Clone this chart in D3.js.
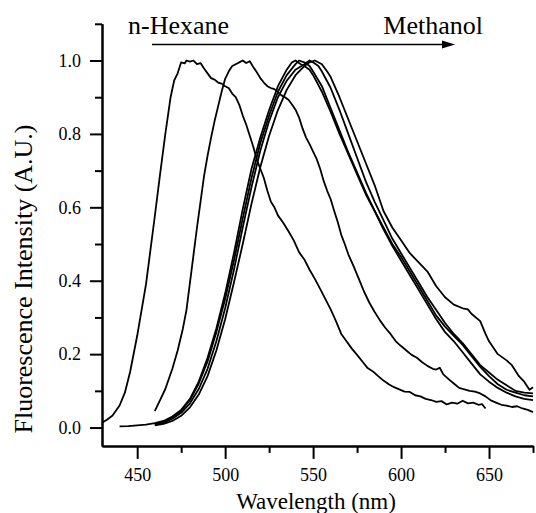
<!DOCTYPE html>
<html>
<head>
<meta charset="utf-8">
<script src="https://cdn.jsdelivr.net/npm/d3@7"></script>
<style>
body { margin: 0; background: #fff; }
svg text { font-family: "Liberation Serif", Tinos, "Times New Roman", "DejaVu Serif", serif; fill: #000; }
</style>
</head>
<body>
<div id="chart"></div>
<script>
// spectra: [wavelength nm, normalised intensity]
const hexane = [[430,0.013],[433,0.022],[436,0.033],[440,0.06],[443,0.095],[446,0.152],[450,0.25],[455,0.39],[460,0.575],[463,0.69],[466,0.8],[469,0.9],[471,0.945],[473,0.965],[475,0.995],[477,0.992],[478,1.0],[480,0.997],[482,1.0],[484,0.99],[486,0.993],[488,0.978],[490,0.965],[492,0.952],[494,0.948],[496,0.94],[498,0.937],[500,0.93],[502,0.925],[504,0.91],[506,0.9],[508,0.88],[510,0.85],[512,0.825],[514,0.795],[516,0.765],[518,0.73],[520,0.705],[522,0.68],[524,0.645],[526,0.615],[528,0.6],[530,0.578],[533,0.558],[536,0.535],[539,0.51],[542,0.478],[545,0.458],[548,0.43],[551,0.405],[554,0.378],[557,0.35],[560,0.322],[563,0.29],[566,0.255],[569,0.235],[572,0.215],[575,0.198],[578,0.18],[581,0.162],[584,0.153],[587,0.14],[590,0.128],[593,0.118],[596,0.11],[599,0.104],[602,0.098],[605,0.097],[608,0.088],[611,0.085],[614,0.078],[617,0.075],[620,0.07],[623,0.072],[626,0.063],[629,0.068],[632,0.065],[635,0.073],[638,0.066],[641,0.068],[644,0.062],[646,0.064],[648,0.052]];

const solvent2 = [[460,0.045],[463,0.075],[466,0.105],[470,0.16],[473,0.21],[476,0.27],[478,0.32],[480,0.395],[482,0.47],[484,0.545],[486,0.615],[488,0.685],[490,0.74],[492,0.79],[494,0.835],[496,0.875],[498,0.915],[500,0.95],[502,0.97],[504,0.985],[506,0.99],[508,0.995],[510,1.0],[512,0.993],[514,0.998],[516,0.982],[518,0.968],[520,0.952],[522,0.94],[524,0.93],[526,0.925],[528,0.922],[530,0.914],[532,0.905],[534,0.9],[536,0.893],[538,0.88],[540,0.866],[542,0.845],[544,0.815],[546,0.79],[548,0.772],[550,0.752],[552,0.732],[554,0.705],[556,0.672],[558,0.645],[560,0.622],[562,0.59],[564,0.56],[566,0.525],[568,0.5],[570,0.472],[573,0.44],[576,0.405],[579,0.37],[582,0.34],[585,0.315],[588,0.292],[591,0.272],[594,0.255],[597,0.235],[600,0.222],[603,0.21],[606,0.198],[609,0.19],[612,0.178],[615,0.168],[618,0.16],[620,0.158],[622,0.163],[624,0.145],[627,0.132],[630,0.12],[633,0.108],[636,0.104],[639,0.1],[642,0.098],[645,0.093],[648,0.085],[651,0.074],[654,0.068],[657,0.062],[660,0.06],[663,0.056],[666,0.058],[669,0.052],[672,0.048],[675,0.042]];

const solvent3 = [[440,0.003],[445,0.004],[450,0.006],[455,0.008],[460,0.012],[465,0.018],[470,0.03],[475,0.048],[480,0.078],[485,0.125],[490,0.19],[495,0.27],[500,0.365],[505,0.475],[510,0.595],[515,0.705],[520,0.79],[525,0.865],[530,0.93],[535,0.975],[538,0.995],[540,1.0],[543,0.99],[545,0.985],[548,0.975],[550,0.96],[555,0.915],[560,0.86],[565,0.8],[570,0.745],[575,0.69],[580,0.635],[585,0.59],[590,0.545],[595,0.5],[600,0.465],[605,0.425],[610,0.385],[615,0.345],[620,0.305],[625,0.275],[630,0.25],[635,0.225],[640,0.195],[645,0.165],[650,0.14],[655,0.118],[660,0.103],[665,0.095],[670,0.088],[675,0.085]];

const solvent4 = [[460,0.01],[465,0.016],[470,0.028],[475,0.046],[480,0.075],[485,0.12],[490,0.18],[495,0.26],[500,0.35],[505,0.455],[510,0.57],[515,0.68],[520,0.775],[525,0.85],[530,0.915],[535,0.96],[540,0.99],[542,1.0],[545,0.995],[548,0.985],[550,0.97],[555,0.93],[560,0.87],[565,0.81],[570,0.75],[575,0.695],[580,0.64],[585,0.59],[590,0.54],[595,0.495],[600,0.455],[605,0.415],[610,0.375],[615,0.335],[620,0.295],[625,0.26],[630,0.235],[635,0.205],[640,0.175],[645,0.145],[650,0.125],[655,0.108],[660,0.095],[665,0.085],[670,0.078],[675,0.075]];

const solvent5 = [[460,0.008],[465,0.013],[470,0.024],[475,0.04],[480,0.066],[485,0.105],[490,0.16],[495,0.235],[500,0.325],[505,0.43],[510,0.545],[515,0.655],[520,0.755],[525,0.835],[530,0.9],[535,0.945],[540,0.975],[545,0.99],[548,1.0],[550,0.995],[553,0.985],[555,0.97],[560,0.925],[565,0.865],[570,0.8],[575,0.735],[580,0.67],[585,0.615],[590,0.565],[595,0.515],[600,0.475],[605,0.435],[610,0.395],[615,0.355],[620,0.32],[625,0.285],[630,0.255],[635,0.23],[640,0.2],[645,0.17],[650,0.15],[655,0.13],[660,0.115],[665,0.1],[670,0.095],[675,0.093]];

const methanol = [[460,0.006],[465,0.01],[470,0.018],[475,0.032],[480,0.055],[485,0.09],[490,0.14],[495,0.21],[500,0.295],[505,0.395],[510,0.5],[515,0.61],[520,0.71],[525,0.795],[530,0.865],[535,0.92],[540,0.96],[545,0.985],[548,0.995],[551,1.0],[555,0.99],[558,0.97],[560,0.955],[565,0.9],[570,0.84],[575,0.78],[580,0.72],[585,0.66],[590,0.59],[595,0.545],[600,0.51],[605,0.475],[610,0.45],[613,0.435],[615,0.425],[620,0.385],[625,0.355],[630,0.335],[635,0.325],[638,0.322],[640,0.31],[645,0.29],[648,0.255],[650,0.235],[655,0.2],[660,0.183],[663,0.17],[667,0.14],[670,0.125],[673,0.103],[675,0.11]];

const spectra = [hexane, solvent2, solvent3, solvent4, solvent5, methanol];

const xMajor = [450, 500, 550, 600, 650];
const xMinor = [475, 525, 575, 625, 675];
const yMajor = [0, 0.2, 0.4, 0.6, 0.8, 1.0];
const yMinor = [0.1, 0.3, 0.5, 0.7, 0.9, 1.1];

const serif = '"Liberation Serif", Tinos, "Times New Roman", "DejaVu Serif", serif';

const width = 536, height = 513;
const svg = d3.select("#chart").append("svg")
	.attr("width", width)
	.attr("height", height);

const x = d3.scaleLinear().domain([430, 675]).range([102, 533]);
const y = d3.scaleLinear().domain([-0.05, 1.1]).range([445.9, 23.8]);

// axes
const gx = svg.append("g").attr("transform", `translate(0,${y(-0.05)})`);
gx.call(d3.axisBottom(x).tickValues(xMajor).tickSize(13).tickSizeOuter(0).tickPadding(9));
gx.append("g").call(d3.axisBottom(x).tickValues(xMinor).tickSize(7).tickSizeOuter(0).tickFormat(""));

const gy = svg.append("g").attr("transform", `translate(${x(430)},0)`);
gy.call(d3.axisLeft(y).tickValues(yMajor).tickSize(12).tickSizeOuter(0).tickPadding(9).tickFormat(d3.format(".1f")));
gy.append("g").call(d3.axisLeft(y).tickValues(yMinor).tickSize(7).tickSizeOuter(0).tickFormat(""));

svg.selectAll("g").attr("font-family", serif);
svg.selectAll(".domain, .tick line")
	.attr("stroke", "#000")
	.attr("stroke-width", 2);
svg.selectAll(".tick text")
	.attr("font-size", 18)
	.attr("fill", "#000");

// spectra
const line = d3.line()
	.x(d => x(d[0]))
	.y(d => y(d[1]));

svg.append("g")
	.selectAll("path")
	.data(spectra)
	.enter()
	.append("path")
	.attr("d", line)
	.attr("fill", "none")
	.attr("stroke", "#000")
	.attr("stroke-width", 1.8)
	.attr("stroke-linejoin", "round");

// solvent arrow
svg.append("line")
	.attr("x1", 152).attr("y1", 44.5)
	.attr("x2", 444).attr("y2", 44.5)
	.attr("stroke", "#000")
	.attr("stroke-width", 1.6);
svg.append("path")
	.attr("d", "M442,40.5 L455,44.5 L442,48.5 Z")
	.attr("fill", "#000");

svg.append("text")
	.attr("x", 128).attr("y", 34)
	.attr("font-family", serif)
	.attr("font-size", 26)
	.text("n-Hexane");
svg.append("text")
	.attr("x", 483).attr("y", 34)
	.attr("text-anchor", "end")
	.attr("font-family", serif)
	.attr("font-size", 26)
	.text("Methanol");

// axis titles
svg.append("text")
	.attr("x", 316).attr("y", 509)
	.attr("text-anchor", "middle")
	.attr("font-family", serif)
	.attr("font-size", 23)
	.text("Wavelength (nm)");
svg.append("text")
	.attr("transform", `translate(32,${279}) rotate(-90)`)
	.attr("text-anchor", "middle")
	.attr("font-family", serif)
	.attr("font-size", 26)
	.text("Fluorescence Intensity (A.U.)");
</script>
</body>
</html>
